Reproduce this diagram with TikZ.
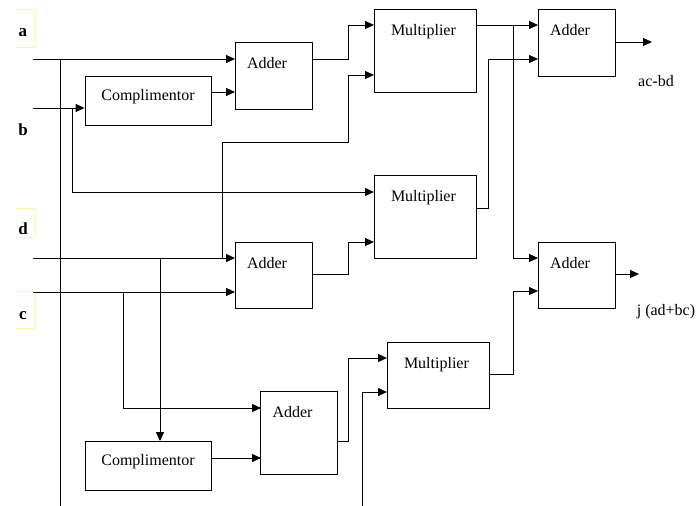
\documentclass[tikz,border=0pt]{standalone}
\usepackage{fontspec}
\setmainfont{Liberation Serif}
\usetikzlibrary{arrows.meta}
\tikzset{
  blk/.style={draw, rectangle, inner sep=0pt, minimum width=#1},
  tag/.style={anchor=north west, inner sep=0pt, font=\fontsize{16}{19}\selectfont},
  adder/.style={blk=77pt, minimum height=#1,
    label={[tag, xshift=12pt, yshift=-15pt]north west:Adder}},
  mult/.style={blk=102pt, minimum height=#1,
    label={[tag, xshift=17pt, yshift=-15pt]north west:Multiplier}},
  cmpl/.style={blk=126pt, minimum height=49pt,
    label={[inner sep=0pt, yshift=4pt, font=\fontsize{16}{19}\selectfont]center:Complimentor}},
  io/.style={inner sep=0pt, font=\bfseries\fontsize{17}{20}\selectfont},
  res/.style={inner sep=0pt, font=\fontsize{16}{19}\selectfont},
  wire/.style={-{Triangle[length=9pt,width=8pt]}},
  yframe/.style={draw=yellow!40, line width=0.6pt}
}
\begin{document}
\begin{tikzpicture}[x=1pt, y=-1pt, line width=0.9pt]
  \useasboundingbox (0,0) rectangle (697,506);
  % input labels
  \draw[yframe] (16,9) -| (35,47) -- (16,47);
  \draw[yframe] (16,208) -| (35,237) -- (16,237);
  \draw[yframe] (16,291) -| (35,328) -- (16,328);
  \node[io] (la) at (23,33) {a};
  \node[io] (lb) at (23,130) {b};
  \node[io] (ld) at (23,229) {d};
  \node[io] (lc) at (23,316) {c};
  % blocks
  \node[cmpl] (cmp1) at (148,100.5) {};
  \node[cmpl] (cmp2) at (148,466) {};
  \node[adder=67pt] (add1) at (273.5,75.5) {};
  \node[adder=66pt] (add2) at (273.5,275) {};
  \node[adder=83pt] (add3) at (299,432.5) {};
  \node[adder=67pt] (add4) at (576.5,42.5) {};
  \node[adder=66pt] (add5) at (576.5,275) {};
  \node[mult=83pt] (mul1) at (425,50.5) {};
  \node[mult=83pt] (mul2) at (425,216.5) {};
  \node[mult=66pt] (mul3) at (438,375) {};
  \node[res] (re) at (656,81) {ac-bd};
  \node[res] (im) at (666,312) {j (ad+bc)};
  % ports
  \coordinate (a-in) at (33,59);
  \coordinate (b-in) at (33,108);
  \coordinate (d-in) at (33,258);
  \coordinate (c-in) at (33,292);
  \coordinate (a-dn) at (60,506);
  \coordinate (x-dn) at (362,506);
  \coordinate (add1-i1) at (235,59);
  \coordinate (add1-i2) at (235,92);
  \coordinate (add1-o) at (312,59);
  \coordinate (add2-i1) at (235,258);
  \coordinate (add2-i2) at (235,292);
  \coordinate (add2-o) at (312,274);
  \coordinate (add3-i1) at (261,408);
  \coordinate (add3-i2) at (261,458);
  \coordinate (add3-o) at (337,441);
  \coordinate (add4-i1) at (538,25);
  \coordinate (add4-i2) at (538,59);
  \coordinate (add4-o) at (615,42);
  \coordinate (add5-i1) at (538,258);
  \coordinate (add5-i2) at (538,291);
  \coordinate (add5-o) at (615,274);
  \coordinate (mul1-i1) at (374,25);
  \coordinate (mul1-i2) at (374,75);
  \coordinate (mul1-o) at (476,25);
  \coordinate (mul2-i1) at (374,192);
  \coordinate (mul2-i2) at (374,242);
  \coordinate (mul2-o) at (476,208);
  \coordinate (mul3-i1) at (387,358);
  \coordinate (mul3-i2) at (387,392);
  \coordinate (mul3-o) at (489,374);
  \coordinate (re-end) at (652,42);
  \coordinate (im-end) at (639,274);
  % wires
  \begin{scope}[wire]
    \draw (a-in) -- (add1-i1);
    \draw (b-in) -- (b-in -| cmp1.west);
    \draw (b-in -| 72,0) |- (mul2-i1);
    \draw (cmp1.east |- add1-i2) -- (add1-i2);
    \draw (add1-o) -- ++(36,0) |- (mul1-i1);
    \draw (d-in) -- (add2-i1);
    \draw (d-in -| 222,0) -- (222,142) -- (348,142) |- (mul1-i2);
    \draw (d-in -| 160,0) -- (160,0 |- cmp2.north);
    \draw (c-in) -- (add2-i2);
    \draw (c-in -| 123,0) |- (add3-i1);
    \draw (cmp2.east |- add3-i2) -- (add3-i2);
    \draw (add2-o) -- ++(36,0) |- (mul2-i2);
    \draw (add3-o) -- ++(11,0) |- (mul3-i1);
    \draw (x-dn) |- (mul3-i2);
    \draw (mul1-o) -- (add4-i1);
    \draw (mul1-o -| 513,0) |- (add5-i1);
    \draw (mul2-o) -- ++(12,0) |- (add4-i2);
    \draw (mul3-o) -- ++(24,0) |- (add5-i2);
    \draw (add4-o) -- (re-end);
    \draw (add5-o) -- (im-end);
  \end{scope}
  \draw (a-in -| a-dn) -- (a-dn);
\end{tikzpicture}
\end{document}
